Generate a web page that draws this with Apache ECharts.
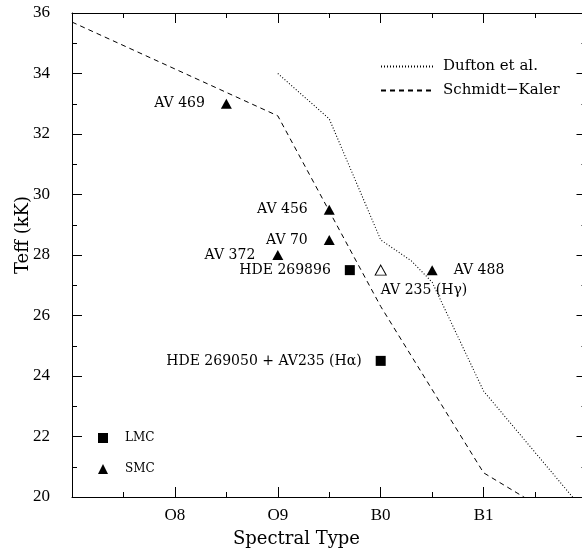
<!DOCTYPE html>
<html>
<head>
<meta charset="utf-8">
<script src="https://cdn.jsdelivr.net/npm/echarts@6/dist/echarts.min.js"></script>
<style>html,body{margin:0;padding:0;background:#fff}#c{width:582px;height:559px}</style>
</head>
<body>
<div id="c"></div>
<script>
// ---- data ----
var xTickValues = [8, 9, 10, 11];
var xTickLabels = ['O8', 'O9', 'B0', 'B1'];
var skX = [7, 9, 10, 11, 12];
var skY = [35.7, 32.6, 26.3, 20.8, 18.75];
var dufX = [9, 9.5, 10, 10.3, 10.5, 11, 12];
var dufY = [34, 32.5, 28.5, 27.8, 27.1, 23.5, 19.45];
var lmcNames = ['HDE 269896', 'HDE 269050 + AV235 (H\u03b1)'];
var lmcX = [9.7, 10];
var lmcY = [27.5, 24.5];
var smcNames = ['AV 469', 'AV 456', 'AV 70', 'AV 372', 'AV 488'];
var smcX = [8.5, 9.5, 9.5, 9, 10.5];
var smcY = [33, 29.5, 28.5, 28, 27.5];
var openNames = ['AV 235 (H\u03b3)'];
var openX = [10];
var openY = [27.5];

var serif = 'DejaVu Serif';
function zip(a, b) { return a.map(function (v, i) { return [v, b[i]]; }); }
function labelFor(name) {
  var left = { 'AV 469': 16, 'AV 456': 16, 'AV 70': 16, 'AV 372': 17, 'HDE 269896': 14 };
  left['HDE 269050 + AV235 (H\u03b1)'] = 14;
  if (left[name] !== undefined) return { show: true, position: 'left', distance: left[name], formatter: name };
  if (name === 'AV 488') return { show: true, position: 'right', distance: 16, formatter: name };
  return { show: true, position: [6, 26], align: 'left', verticalAlign: 'middle', formatter: name };
}
function pts(xs, ys, names) {
  return xs.map(function (x, i) { return { value: [x, ys[i]], label: labelFor(names[i]) }; });
}

var axisLineStyle = { color: '#000', width: 1 };
function xAx(pos, showLabel) {
  return {
    type: 'value', position: pos, min: 7, max: 12, interval: 1,
    axisLine: { show: true, onZero: false, lineStyle: axisLineStyle },
    axisTick: { show: true, inside: true, length: 10, lineStyle: axisLineStyle },
    minorTick: { show: true, splitNumber: 2, length: 5, lineStyle: axisLineStyle },
    splitLine: { show: false },
    axisLabel: {
      show: showLabel, margin: 10, color: '#000', fontFamily: 'Liberation Serif', fontSize: 17,
      formatter: function (v) { var k = xTickValues.indexOf(v); return k >= 0 ? xTickLabels[k] : ''; }
    }
  };
}
function yAx(pos, showLabel) {
  return {
    type: 'value', position: pos, min: 20, max: 36, interval: 2,
    axisLine: { show: pos === 'left', onZero: false, lineStyle: axisLineStyle },
    axisTick: { show: true, inside: true, length: 10, lineStyle: axisLineStyle },
    minorTick: { show: true, splitNumber: 2, length: 5, lineStyle: axisLineStyle },
    splitLine: { show: false },
    axisLabel: { show: showLabel, margin: 22, color: '#000', fontFamily: 'Liberation Serif', fontSize: 17 }
  };
}

var chart = echarts.init(document.getElementById('c'));
chart.setOption({
  animation: false,
  backgroundColor: '#fff',
  grid: { left: 72, top: 13, width: 514.5, height: 484, outerBoundsMode: 'none', containLabel: false },
  xAxis: [xAx('bottom', true), xAx('top', false)],
  yAxis: [yAx('left', true), yAx('right', false)],
  legend: [
    {
      data: ['Dufton et al.', 'Schmidt\u2212Kaler'], orient: 'vertical', left: 380, top: 59, padding: 0,
      itemWidth: 52, itemHeight: 14, itemGap: 9,
      itemStyle: { opacity: 0 },
      textStyle: { fontFamily: serif, fontSize: 15, color: '#000', padding: [0, 0, 0, 5] }
    },
    {
      data: ['LMC', 'SMC'], orient: 'vertical', left: 98, top: 432, padding: 0,
      itemWidth: 10, itemHeight: 10, itemGap: 19,
      textStyle: { fontFamily: serif, fontSize: 12, color: '#000', padding: [0, 0, 0, 12] }
    }
  ],
  graphic: [
    { type: 'text', left: 296 - 63, top: 530, style: { text: 'Spectral Type', font: '18px "DejaVu Serif"', fill: '#000' } },
    { type: 'text', x: 23, y: 235, rotation: Math.PI / 2, style: { text: 'Teff (kK)', font: '18px "DejaVu Serif"', fill: '#000', align: 'center', verticalAlign: 'middle' } }
  ],
  series: [
    {
      name: 'Dufton et al.', type: 'line', data: zip(dufX, dufY), symbol: 'none', clip: true,
      lineStyle: { color: '#000', width: 1.1, type: [1, 2] }, itemStyle: { color: '#000' }, z: 2
    },
    {
      name: 'Schmidt\u2212Kaler', type: 'line', data: zip(skX, skY), symbol: 'none', clip: true,
      lineStyle: { color: '#000', width: 1, type: [5, 4] }, itemStyle: { color: '#000' }, z: 2
    },
    {
      name: 'LMC', type: 'scatter', symbol: 'rect', symbolSize: 10, data: pts(lmcX, lmcY, lmcNames),
      itemStyle: { color: '#000', opacity: 1 },
      label: { color: '#000', fontFamily: serif, fontSize: 14 }, z: 3
    },
    {
      name: 'SMC', type: 'scatter', symbol: 'triangle', symbolSize: [11, 10], data: pts(smcX, smcY, smcNames),
      itemStyle: { color: '#000', opacity: 1 },
      label: { color: '#000', fontFamily: serif, fontSize: 14 }, z: 3
    },
    {
      name: 'open', type: 'scatter', symbol: 'triangle', symbolSize: [11, 10], data: pts(openX, openY, openNames),
      itemStyle: { color: '#fff', borderColor: '#000', borderWidth: 1, opacity: 1 },
      label: { color: '#000', fontFamily: serif, fontSize: 14 }, z: 3
    }
  ]
});
</script>
</body>
</html>
